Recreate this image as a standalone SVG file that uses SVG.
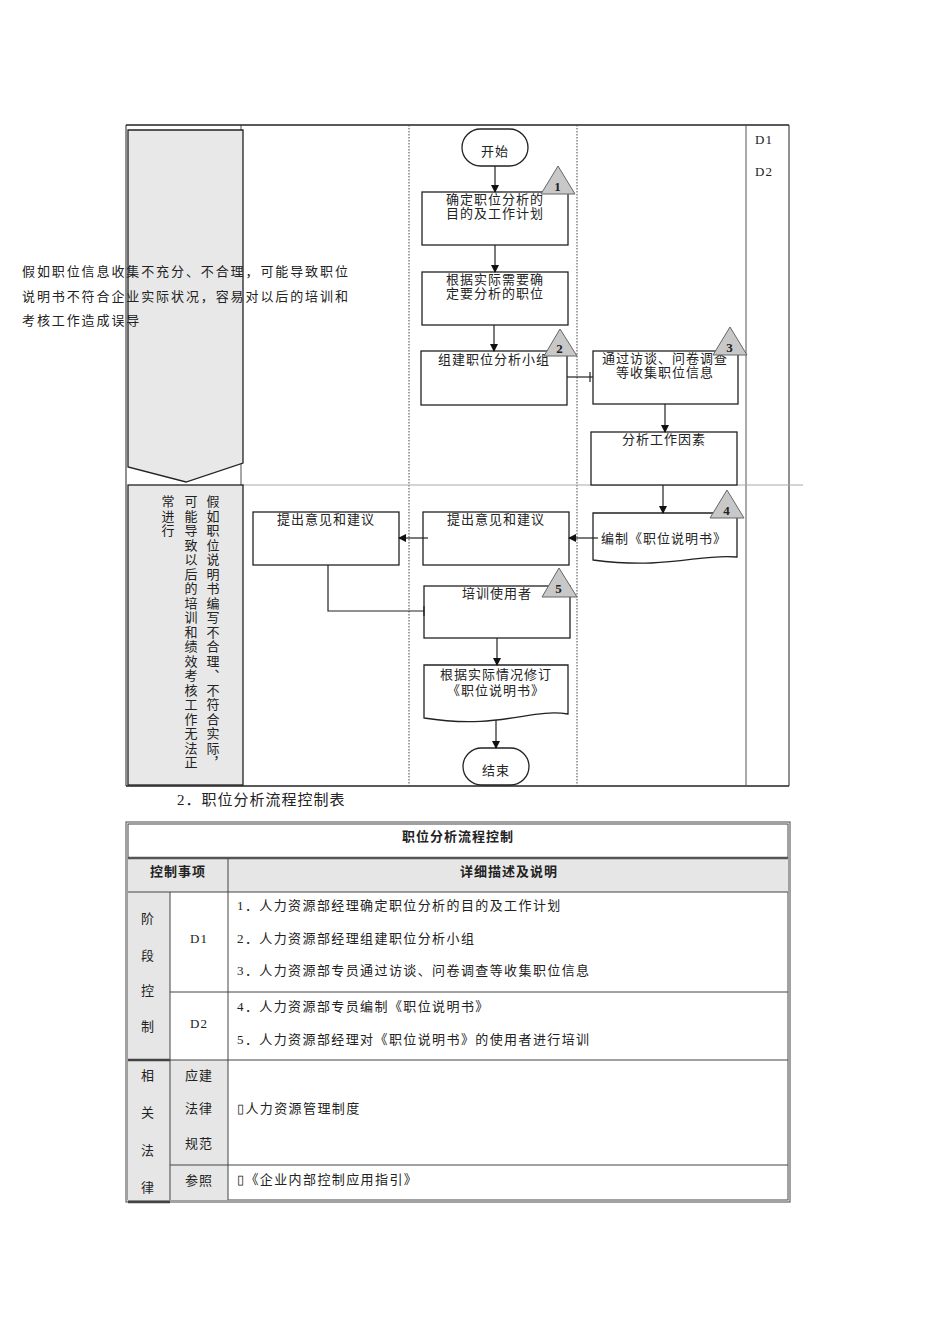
<svg xmlns="http://www.w3.org/2000/svg" width="950" height="1344" viewBox="0 0 950 1344">
<style>
text{font-family:"Liberation Serif","Noto Sans CJK SC",serif;font-size:13px;fill:#222;letter-spacing:1px}
.c{text-anchor:middle}
.b{font-weight:bold}
.w{letter-spacing:1.9px}
.tb{letter-spacing:1.4px}
.box{fill:#fff;stroke:#222;stroke-width:1.3}
.tri{fill:#c8c8c8;stroke:#666;stroke-width:1}
.ln{stroke:#222;stroke-width:1.2;fill:none}
.dot{stroke:#444;stroke-width:1;stroke-dasharray:1.5 1.5}
.g{fill:#e8e8e8;stroke:#222;stroke-width:1.3}
</style>
<defs>
<marker id="ar" markerWidth="8" markerHeight="8" refX="7" refY="4" orient="auto" markerUnits="userSpaceOnUse"><path d="M0,0 L8,4 L0,8 z" fill="#111"/></marker>
</defs>
<g id="frame">
<line x1="126" y1="125" x2="789" y2="125" stroke="#222" stroke-width="1.5"/>
<line x1="126" y1="786" x2="789" y2="786" stroke="#222" stroke-width="1.5"/>
<line x1="126" y1="125" x2="126" y2="786" stroke="#222"/>
<line x1="241" y1="125" x2="241" y2="786" stroke="#222" stroke-width="0.8"/>
<line x1="409" y1="125" x2="409" y2="786" class="dot"/>
<line x1="577" y1="125" x2="577" y2="786" class="dot"/>
<line x1="746" y1="125" x2="746" y2="786" stroke="#555"/>
<line x1="789" y1="125" x2="789" y2="786" stroke="#222"/>
<line x1="241" y1="485" x2="803" y2="485" stroke="#aaa" stroke-width="1.2"/>
<text x="755" y="144">D1</text>
<text x="755" y="176">D2</text>
</g>
<g id="risk1">
<path d="M128,130 H243 V463 L186,482 L128,467 Z" class="g"/>
<text x="22" y="276" class="w">假如职位信息收集不充分、不合理，可能导致职位</text>
<text x="22" y="301" class="w">说明书不符合企业实际状况，容易对以后的培训和</text>
<text x="22" y="325" class="w">考核工作造成误导</text>
</g>
<g id="risk2">
<rect x="128" y="485" width="115" height="300" class="g"/>
<text x="212" y="495" style="writing-mode:vertical-rl;letter-spacing:1.5px">假如职位说明书编写不合理、不符合实际，</text>
<text x="190" y="495" style="writing-mode:vertical-rl;letter-spacing:1.5px">可能导致以后的培训和绩效考核工作无法正</text>
<text x="167" y="495" style="writing-mode:vertical-rl;letter-spacing:1.5px">常进行</text>
</g>
<g id="start"><rect x="462" y="129" width="66" height="37" rx="18.5" class="box"/><text x="495" y="156" class="c">开始</text></g>
<g id="n1"><rect x="422" y="192" width="146" height="53" class="box"/><text x="495" y="204" class="c">确定职位分析的</text><text x="495" y="218" class="c">目的及工作计划</text>
<path d="M558,166 L575,194 L541,194 Z" class="tri"/><text x="558" y="191" class="c b">1</text></g>
<g id="n2"><rect x="422" y="272" width="146" height="53" class="box"/><text x="495" y="284" class="c">根据实际需要确</text><text x="495" y="298" class="c">定要分析的职位</text></g>
<g id="n3"><rect x="421" y="351" width="146" height="54" class="box"/><text x="494" y="364" class="c">组建职位分析小组</text>
<path d="M560,329 L577,356 L544,356 Z" class="tri"/><text x="560" y="353" class="c b">2</text></g>
<g id="n4"><rect x="593" y="351" width="145" height="53" class="box"/><text x="665" y="363" class="c">通过访谈、问卷调查</text><text x="665" y="377" class="c">等收集职位信息</text>
<path d="M730,327 L747,355 L713,355 Z" class="tri"/><text x="730" y="352" class="c b">3</text></g>
<g id="n5"><rect x="591" y="432" width="146" height="53" class="box"/><text x="664" y="444" class="c">分析工作因素</text></g>
<g id="n6"><path d="M593,513 H737 V557 C700,553 670,570 593,560 Z" class="box"/><text x="601" y="543">编制《职位说明书》</text>
<path d="M727,490 L744,518 L710,518 Z" class="tri"/><text x="727" y="515" class="c b">4</text></g>
<g id="n7"><rect x="423" y="512" width="146" height="53" class="box"/><text x="496" y="524" class="c">提出意见和建议</text></g>
<g id="n8"><rect x="253" y="512" width="146" height="53" class="box"/><text x="326" y="524" class="c">提出意见和建议</text></g>
<g id="n9"><rect x="424" y="586" width="146" height="52" class="box"/><text x="497" y="598" class="c">培训使用者</text>
<path d="M559,568 L577,597 L542,597 Z" class="tri"/><text x="559" y="593" class="c b">5</text></g>
<g id="n10"><path d="M424,665 H568 V714 C530,708 500,730 424,718 Z" class="box"/><text x="496" y="679" class="c">根据实际情况修订</text><text x="496" y="695" class="c">《职位说明书》</text></g>
<g id="end"><rect x="463" y="748" width="66" height="37" rx="18.5" class="box"/><text x="496" y="775" class="c">结束</text></g>
<g id="connectors">
<line x1="495" y1="166" x2="495" y2="192" class="ln" marker-end="url(#ar)"/>
<line x1="495" y1="245" x2="495" y2="272" class="ln" marker-end="url(#ar)"/>
<line x1="494" y1="325" x2="494" y2="351" class="ln" marker-end="url(#ar)"/>
<line x1="567" y1="377" x2="593" y2="377" class="ln"/><line x1="590" y1="372" x2="590" y2="382" class="ln"/>
<line x1="665" y1="404" x2="665" y2="432" class="ln" marker-end="url(#ar)"/>
<line x1="663" y1="485" x2="663" y2="513" class="ln" marker-end="url(#ar)"/>
<line x1="598" y1="538" x2="569" y2="538" class="ln" marker-end="url(#ar)"/>
<line x1="428" y1="538" x2="399" y2="538" class="ln" marker-end="url(#ar)"/>
<path d="M328,565 V611 H424" class="ln"/><line x1="424" y1="606" x2="424" y2="616" class="ln"/>
<line x1="497" y1="638" x2="497" y2="665" class="ln" marker-end="url(#ar)"/>
<line x1="496" y1="720" x2="496" y2="748" class="ln" marker-end="url(#ar)"/>
</g>
<text x="177" y="805" style="font-size:15px">2．职位分析流程控制表</text>
<g id="table">
<rect x="126" y="822" width="664" height="380" fill="none" stroke="#444" stroke-width="1"/>
<rect x="128" y="824" width="660" height="376" fill="none" stroke="#444" stroke-width="1"/>
<rect x="128" y="858" width="660" height="34" fill="#e6e6e6"/>
<rect x="128" y="892" width="42" height="308" fill="#e6e6e6"/>
<rect x="170" y="1060" width="58" height="140" fill="#e6e6e6"/>
<line x1="128" y1="858" x2="788" y2="858" stroke="#555" stroke-width="2.5"/>
<line x1="128" y1="892" x2="788" y2="892" stroke="#444"/>
<line x1="170" y1="992" x2="788" y2="992" stroke="#444"/>
<line x1="128" y1="1060" x2="788" y2="1060" stroke="#444"/>
<line x1="128" y1="1060" x2="170" y2="1060" stroke="#444" stroke-width="2.5"/>
<line x1="170" y1="1165" x2="788" y2="1165" stroke="#444"/>
<line x1="128" y1="1202" x2="170" y2="1202" stroke="#444" stroke-width="2.5"/>
<line x1="228" y1="858" x2="228" y2="1200" stroke="#444"/>
<line x1="170" y1="892" x2="170" y2="1200" stroke="#444"/>
<text x="458" y="841" class="c b">职位分析流程控制</text>
<text x="178" y="876" class="c b">控制事项</text>
<text x="509" y="876" class="c b">详细描述及说明</text>
<text x="148" y="923" class="c">阶</text><text x="148" y="960" class="c">段</text><text x="148" y="995" class="c">控</text><text x="148" y="1031" class="c">制</text>
<text x="148" y="1080" class="c">相</text><text x="148" y="1117" class="c">关</text><text x="148" y="1155" class="c">法</text><text x="148" y="1192" class="c">律</text>
<text x="199" y="943" class="c">D1</text><text x="199" y="1028" class="c">D2</text>
<text x="199" y="1080" class="c">应建</text><text x="199" y="1113" class="c">法律</text><text x="199" y="1148" class="c">规范</text><text x="199" y="1185" class="c">参照</text>
<text x="237" y="910" class="tb">1．人力资源部经理确定职位分析的目的及工作计划</text>
<text x="237" y="943" class="tb">2．人力资源部经理组建职位分析小组</text>
<text x="237" y="975" class="tb">3．人力资源部专员通过访谈、问卷调查等收集职位信息</text>
<text x="237" y="1011" class="tb">4．人力资源部专员编制《职位说明书》</text>
<text x="237" y="1044" class="tb">5．人力资源部经理对《职位说明书》的使用者进行培训</text>
<text x="237" y="1113" class="tb">▯人力资源管理制度</text>
<text x="237" y="1184" class="tb">▯《企业内部控制应用指引》</text>
</g>
</svg>
